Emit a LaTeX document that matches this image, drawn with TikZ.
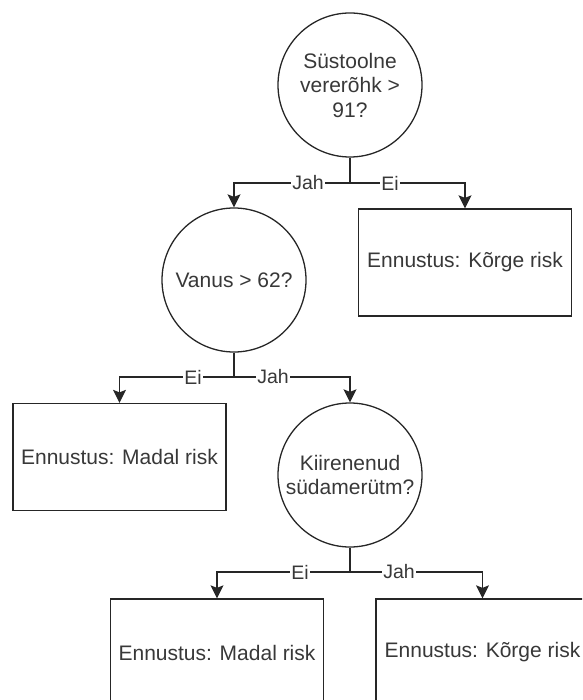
\documentclass[tikz,border=0pt]{standalone}
\usepackage{fontspec}
\setmainfont{Liberation Sans}
\usetikzlibrary{arrows.meta}
\begin{document}
\begin{tikzpicture}[x=1pt,y=-1pt,line width=1.3pt,color=black!85,
        every node/.style={font=\fontsize{21}{24.5}\selectfont,text=black!78,align=center},
        question/.style={draw,circle,minimum size=144pt,inner sep=0pt},
        outcome/.style={draw,rectangle,minimum width=213pt,minimum height=107pt},
        answer/.style={fill=white,inner sep=1pt,font=\fontsize{19.5}{19.5}\selectfont},
        branch/.style={-{Stealth[length=13pt,width=13pt,inset=2.5pt]}}]
        \clip (0,0) rectangle (582,700);
        \node[question] (q1) at (350,85) {Süstoolne\\vererõhk >\\91?};
        \node[question] (q2) at (234,280) {Vanus > 62?};
        \node[question] (q3) at (350,475) {Kiirenenud\\südamerütm?};
        \node[outcome] (hi1) at (465,262.5) {Ennustus: Kõrge risk};
        \node[outcome] (lo1) at (119.5,457) {Ennustus: Madal risk};
        \node[outcome] (lo2) at (217,652.5) {Ennustus: Madal risk};
        \node[outcome] (hi2) at (482.5,652.5) {Ennustus: Kõrge risk};
        \coordinate (j1) at (350,183);
        \coordinate (j2) at (234,377);
        \coordinate (j3) at (350,572);
        \draw (q1) -- (j1);
        \draw[branch] (j1) -| (q2);
        \draw[branch] (j1) -| (hi1);
        \draw (q2) -- (j2);
        \draw[branch] (j2) -| (lo1);
        \draw[branch] (j2) -| (q3);
        \draw (q3) -- (j3);
        \draw[branch] (j3) -| (lo2);
        \draw[branch] (j3) -| (hi2);
        \node[answer] (a1) at (308,183) {Jah};
        \node[answer] (a2) at (390,183) {Ei};
        \node[answer] (a3) at (193,377) {Ei};
        \node[answer] (a4) at (273,377) {Jah};
        \node[answer] (a5) at (300,572) {Ei};
        \node[answer] (a6) at (399,572) {Jah};
\end{tikzpicture}
\end{document}
